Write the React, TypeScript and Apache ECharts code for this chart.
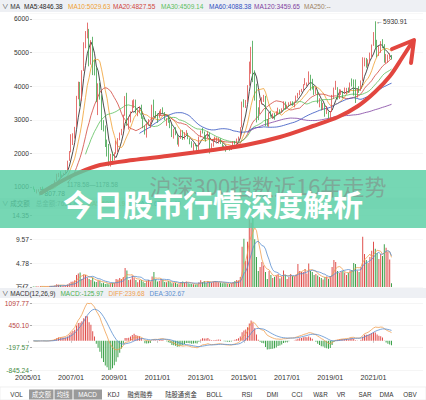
import React, { useEffect, useRef } from "react";
import * as echarts from "echarts";

// CSI 300 monthly candles, 2005/04 – 2021/11: [open, close, low, high]
const monthlyK: number[][] = [
  // 2005
  [1000, 932, 925, 1016], [932, 862, 850, 945], [862, 910, 807.78, 930], [910, 914, 860, 935], [914, 974, 905, 1000], [974, 940, 925, 1012], [940, 892, 870, 948], [892, 897, 862, 912], [897, 923, 885, 935],
  // 2006
  [923, 1002, 920, 1005], [1002, 1040, 995, 1075], [1040, 1049, 1012, 1060], [1049, 1185, 1045, 1195], [1185, 1341, 1180, 1395], [1341, 1390, 1295, 1420], [1390, 1324, 1286, 1469], [1324, 1360, 1266, 1372], [1360, 1407, 1340, 1420], [1407, 1476, 1398, 1503], [1476, 1782, 1470, 1784], [1782, 2041, 1778, 2069],
  // 2007
  [2041, 2446, 2030, 2570], [2446, 2536, 2250, 2598], [2536, 2782, 2440, 2790], [2782, 3710, 2780, 3712], [3710, 3904, 3610, 4135], [3904, 3878, 3404, 4127], [3878, 4471, 3563, 4475], [4471, 5218, 4453, 5307], [5218, 5601, 5130, 5640], [5601, 5688, 5423, 5891.72], [5688, 4738, 4590, 5705], [4738, 5338, 4640, 5370],
  // 2008
  [5338, 4589, 4330, 5470], [4589, 4540, 4320, 4790], [4540, 3790, 3525, 4560], [3790, 4030, 3140, 4085], [4030, 3716, 3600, 4100], [3716, 2830, 2695, 3730], [2830, 2820, 2653, 2990], [2820, 2390, 2190, 2830], [2390, 2270, 1907, 2410], [2270, 1663, 1620, 2280], [1663, 1840, 1607, 1985], [1840, 1818, 1760, 2048],
  // 2009
  [1818, 1990, 1795, 2030], [1990, 2082, 1985, 2380], [2082, 2400, 2030, 2455], [2400, 2560, 2390, 2620], [2560, 2714, 2540, 2730], [2714, 3137, 2700, 3150], [3137, 3680, 3120, 3704], [3680, 2880, 2820, 3803], [2880, 2960, 2710, 3090], [2960, 3240, 2920, 3250], [3240, 3480, 3220, 3580], [3480, 3576, 3350, 3610],
  // 2010
  [3576, 3204, 3190, 3600], [3204, 3281, 3105, 3300], [3281, 3346, 3200, 3400], [3346, 3068, 3030, 3450], [3068, 2812, 2750, 3075], [2812, 2563, 2560, 2830], [2563, 2868, 2470, 2890], [2868, 2903, 2830, 3020], [2903, 2935, 2760, 2945], [2935, 3403, 2930, 3450], [3403, 3196, 3080, 3600], [3196, 3128, 3050, 3260],
  // 2011
  [3128, 3077, 2910, 3190], [3077, 3239, 3060, 3270], [3239, 3263, 3140, 3320], [3263, 3211, 3180, 3370], [3211, 3001, 2990, 3230], [3001, 3044, 2820, 3050], [3044, 2937, 2910, 3140], [2937, 2845, 2750, 2990], [2845, 2505, 2485, 2870], [2505, 2645, 2440, 2730], [2645, 2567, 2540, 2780], [2538, 2317, 2261, 2551],
  // 2012
  [2317, 2435, 2201, 2481], [2435, 2605, 2431, 2691], [2605, 2426, 2401, 2691], [2426, 2598, 2411, 2631], [2598, 2602, 2551, 2691], [2602, 2432, 2421, 2611], [2432, 2304, 2271, 2451], [2304, 2175, 2171, 2361], [2175, 2264, 2071, 2301], [2264, 2225, 2211, 2301], [2225, 2110, 2073, 2241], [2110, 2494, 2101, 2501],
  // 2013
  [2494, 2659, 2481, 2681], [2659, 2644, 2591, 2761], [2644, 2466, 2411, 2651], [2466, 2464, 2351, 2531], [2464, 2611, 2451, 2661], [2611, 2186, 1996, 2621], [2186, 2224, 2111, 2301], [2224, 2355, 2201, 2421], [2355, 2380, 2351, 2501], [2380, 2381, 2341, 2481], [2381, 2445, 2291, 2471], [2445, 2301, 2281, 2451],
  // 2014
  [2301, 2173, 2131, 2301], [2173, 2149, 2121, 2241], [2149, 2117, 2051, 2171], [2117, 2131, 2101, 2221], [2131, 2128, 2081, 2161], [2128, 2136, 2101, 2171], [2136, 2321, 2131, 2361], [2321, 2298, 2261, 2371], [2298, 2421, 2291, 2441], [2421, 2479, 2371, 2501], [2479, 2780, 2451, 2781], [2780, 3504, 2771, 3541],
  // 2015
  [3504, 3405, 3371, 3611], [3405, 3543, 3351, 3591], [3543, 4022, 3531, 4031], [4022, 4720, 4011, 4731], [4720, 5095, 4371, 5171], [5095, 4444, 4121, 5351], [4444, 3787, 3571, 4471], [3787, 3338, 2921, 4071], [3338, 3174, 2991, 3371], [3174, 3505, 3171, 3591], [3505, 3537, 3461, 3671], [3537, 3702, 3531, 3741],
  // 2016
  [3702, 2917, 2811, 3711], [2917, 2848, 2801, 3021], [2848, 3189, 2791, 3221], [3189, 3128, 3091, 3271], [3128, 3140, 3031, 3191], [3140, 3125, 3001, 3201], [3125, 3175, 3121, 3251], [3175, 3298, 3151, 3361], [3298, 3224, 3181, 3311], [3224, 3307, 3211, 3341], [3307, 3492.2, 3301, 3551], [3492, 3350, 3300, 3540],
  // 2017
  [3350, 3427, 3330, 3450], [3427, 3493, 3410, 3520], [3493, 3496, 3430, 3550], [3496, 3479, 3420, 3550], [3479, 3533, 3370, 3540], [3533, 3706, 3520, 3720], [3706, 3777, 3640, 3800], [3777, 3862, 3730, 3880], [3862, 3877, 3820, 3920], [3877, 4046, 3870, 4060], [4046, 4046, 4030, 4240], [4046, 4071, 3990, 4110],
  // 2018
  [4071, 4315, 4070, 4440], [4315, 4063, 3870, 4340], [4063, 3939, 3900, 4220], [3939, 3796, 3740, 4010], [3796, 3842, 3770, 3960], [3842, 3550, 3490, 3870], [3550, 3557, 3370, 3640], [3557, 3375, 3280, 3570], [3375, 3478, 3290, 3500], [3478, 3193, 3090, 3480], [3193, 3213, 3170, 3410], [3213, 3051, 3030, 3240],
  // 2019
  [3051, 3242, 2975, 3260], [3242, 3710, 3230, 3740], [3710, 3912, 3620, 3960], [3912, 3953, 3890, 4160], [3953, 3676.6, 3600, 3970], [3676.6, 3825.59, 3620, 3910], [3825.59, 3835.36, 3740, 3900], [3835.36, 3799.59, 3640, 3860], [3799.59, 3814.53, 3780, 3960], [3814.53, 3886.75, 3760, 3950], [3886.75, 3828.67, 3800, 3960], [3828.67, 4096.58, 3810, 4110],
  // 2020
  [4096.58, 4003.9, 3990, 4230], [4003.9, 3940.05, 3720, 4200], [3940.05, 3692.18, 3500, 4200], [3692.18, 3912.57, 3660, 3920], [3912.57, 3867.02, 3800, 4000], [3867.02, 4163.96, 3860, 4170], [4163.96, 4695.05, 4160, 4860], [4695.05, 4816.22, 4590, 4850], [4816.22, 4587.4, 4550, 4840], [4587.4, 4695.33, 4580, 4800], [4695.33, 4960.25, 4680, 5000], [4960.25, 5211.29, 4850, 5240],
  // 2021
  [5211.29, 5345.57, 5200, 5610], [5345.57, 5336.76, 5140, 5930.91], [5336.76, 5048.49, 4860, 5380], [5048.49, 5123.49, 4900, 5200], [5123.49, 5331.96, 4990, 5340], [5331.96, 5223.74, 5130, 5400], [5223.74, 4811.17, 4700, 5250], [4811.17, 4828.46, 4680, 4960], [4828.46, 4866.38, 4700, 4940], [4866.38, 4908.77, 4800, 4980], [4908.77, 4817.12, 4790, 4930],
];

// monthly turnover in 万亿 yuan, same months
const turnover: number[] = [
  0.12, 0.1, 0.13, 0.09, 0.14, 0.12, 0.09, 0.08, 0.1,
  0.16, 0.22, 0.17, 0.3, 0.55, 0.45, 0.4, 0.22, 0.25, 0.28, 0.5, 0.75,
  1.05, 1.1, 1.35, 2.4, 2.7, 2.9, 1.6, 2.5, 2.4, 1.9, 1.6, 1.4,
  1.9, 1.1, 1.0, 1.3, 1.2, 0.75, 0.85, 0.6, 0.7, 0.55, 0.75, 0.85,
  0.8, 1.6, 1.5, 1.8, 1.6, 2.0, 3.8, 3.3, 1.4, 1.5, 2.3, 1.9,
  1.4, 0.95, 1.4, 1.4, 1.1, 0.8, 1.2, 1.4, 1.0, 2.1, 3.0, 1.5,
  1.1, 1.2, 1.6, 1.4, 1.0, 0.95, 1.2, 1.0, 0.75, 0.8, 0.85, 0.6,
  0.55, 1.0, 1.1, 0.9, 1.1, 0.75, 0.65, 0.6, 0.55, 0.5, 0.55, 0.95,
  1.35, 1.0, 1.2, 0.8, 1.2, 1.05, 0.9, 1.1, 1.2, 1.0, 0.95, 0.9,
  0.75, 0.8, 0.75, 0.7, 0.6, 0.75, 1.0, 1.2, 1.4, 1.3, 2.0, 8.0,
  9.6, 5.2, 9.0, 13.5, 12.8, 14.35, 9.5, 6.0, 3.2, 4.0, 5.0, 4.3,
  3.0, 1.6, 3.2, 2.4, 1.8, 2.0, 2.3, 2.6, 1.7, 2.0, 3.3, 2.4,
  1.6, 2.0, 2.6, 2.2, 2.1, 2.5, 4.6, 3.2, 3.0, 3.0, 3.6, 2.7,
  4.7, 3.2, 3.0, 2.4, 2.6, 2.3, 2.0, 1.8, 1.5, 2.0, 2.1, 1.6,
  2.2, 4.0, 5.4, 5.0, 3.2, 2.8, 3.1, 3.2, 2.9, 2.4, 2.8, 3.3,
  3.4, 4.8, 4.6, 3.3, 3.0, 4.0, 10.0, 6.6, 5.4, 4.8, 6.0, 7.2,
  9.0, 7.6, 6.8, 5.6, 6.6, 6.2, 8.5, 7.8, 7.0, 5.5, 0.765489,
];

// axis runs from 2005/01; the first candle is 2005/04
const AXIS_START_YEAR = 2005;
const LEAD_MONTHS = 3;
const TRAIL_MONTHS = 17;

const maPeriods = [5, 10, 20, 30, 60, 120, 250];
const maColors = ["#1e1e1e", "#f0a030", "#d0453c", "#5cbf5c", "#2f4fbf", "#7e3fa0", "#a08464"];

const tabNames = ["VOL", "成交额", "均线", "MACD", "KDJ", "融资融券", "陆股通资金", "BOLL", "RSI", "DMI", "CCI", "W&R", "VR", "SAR", "DMA", "OBV"];
const activeTabs = ["成交额", "均线", "MACD"];

const TITLE = "今日股市行情深度解析";
const WATERMARK = "沪深300指数近16年走势";

const LATIN = "'Liberation Sans', Arial, sans-serif";
const MIXED = "'Liberation Sans', 'Noto Sans CJK SC', sans-serif";
const CJK = "'Noto Sans CJK SC', sans-serif";

const UP = "#e0504e";
const DOWN = "#3fa34d";
const ORANGE = "#f0a050";
const BLUE = "#5b8fd0";

function movingAvg(vals: number[], n: number): (number | string)[] {
  return vals.map((_, i) => {
    if (i < n - 1) return "-";
    let s = 0;
    for (let k = i - n + 1; k <= i; k++) s += vals[k];
    return s / n;
  });
}

function ema(vals: number[], n: number): number[] {
  const out: number[] = [];
  let e = vals[0];
  vals.forEach((v, i) => {
    e = i === 0 ? v : (2 * v + (n - 1) * e) / (n + 1);
    out.push(e);
  });
  return out;
}

const pad = (arr: any[]) => [...Array(LEAD_MONTHS).fill("-"), ...arr];

let measureCtx: CanvasRenderingContext2D | null = null;
function textWidth(t: string, size: number, family: string) {
  if (!measureCtx) measureCtx = document.createElement("canvas").getContext("2d");
  if (!measureCtx) return t.length * size * 0.55;
  measureCtx.font = `${size}px ${family}`;
  return measureCtx.measureText(t).width;
}

function buildOption() {
  const total = LEAD_MONTHS + monthlyK.length + TRAIL_MONTHS;
  const months: string[] = [];
  for (let i = 0; i < total; i++) {
    const y = AXIS_START_YEAR + Math.floor(i / 12);
    const m = (i % 12) + 1;
    months.push(`${y}/${String(m).padStart(2, "0")}`);
  }

  const closes = monthlyK.map((k) => k[1]);
  const maSeries = maPeriods.map((n) => movingAvg(closes, n));

  const volMa5 = movingAvg(turnover, 5);
  const volMa10 = movingAvg(turnover, 10);
  const volMax = Math.max(...turnover);

  const e12 = ema(closes, 12);
  const e26 = ema(closes, 26);
  const diff = e12.map((v, i) => v - e26[i]);
  const dea: number[] = [];
  diff.forEach((v, i) => dea.push(i === 0 ? 0 : (2 * v + 8 * dea[i - 1]) / 10));
  const macd = diff.map((v, i) => 2 * (v - dea[i]));
  const mMin = Math.min(...diff, ...dea, ...macd);
  const mMax = Math.max(...diff, ...dea, ...macd);

  const last = (a: any[]) => a[a.length - 1];
  const fmt = (v: any) => (typeof v === "number" ? v.toFixed(2) : "--");

  const showYearLabel = (_: number, value: string) => {
    const [y, m] = value.split("/");
    return m === "01" && (+y - AXIS_START_YEAR) % 2 === 0 && +y <= 2021;
  };

  const grids = [
    { left: 27, right: 3, top: 13, height: 184 },
    { left: 27, right: 3, top: 215, height: 72 },
    { left: 27, right: 3, top: 303, height: 67 },
  ].map((g) => ({ ...g, outerBoundsMode: "none" }));

  const xAxes = [0, 1, 2].map((i) => ({
    type: "category",
    gridIndex: i,
    data: months,
    boundaryGap: true,
    axisLine: { show: false },
    splitLine: { show: false },
    axisTick:
      i === 2
        ? { show: true, interval: showYearLabel, alignWithLabel: true, length: 2, lineStyle: { color: "#c8c8c8" } }
        : { show: false },
    axisLabel:
      i === 2
        ? { show: true, interval: showYearLabel, fontSize: 7.2, color: "#333", margin: 4, fontFamily: LATIN }
        : { show: false },
  }));

  const yCommon = {
    offset: -5,
    axisLine: { show: false },
    axisTick: { show: true, length: 2, lineStyle: { color: "#aaa" } },
  };

  const yAxes = [
    {
      ...yCommon,
      type: "value",
      gridIndex: 0,
      min: 702,
      max: 6178,
      splitNumber: 5,
      splitLine: { show: true, lineStyle: { color: "#f3f3f3", width: 0.6 } },
      axisLabel: {
        fontSize: 6.7,
        color: "#333",
        margin: 3,
        fontFamily: LATIN,
        showMinLabel: false,
        showMaxLabel: false,
        formatter: (v: number) => String(Math.round(v)),
      },
    },
    {
      ...yCommon,
      type: "value",
      gridIndex: 1,
      min: 0,
      max: volMax,
      interval: volMax / 3,
      splitLine: { show: true, lineStyle: { color: "#f3f3f3", width: 0.6 } },
      axisLabel: {
        fontSize: 6.7,
        color: "#333",
        margin: 3,
        fontFamily: MIXED,
        showMinLabel: true,
        showMaxLabel: true,
        formatter: (v: number) => (v === 0 ? "万亿" : v.toFixed(2)),
      },
    },
    {
      ...yCommon,
      type: "value",
      gridIndex: 2,
      min: mMin,
      max: mMax,
      interval: (mMax - mMin) / 3,
      splitLine: { show: true, lineStyle: { color: "#eeeeee", width: 0.6 } },
      axisLabel: {
        fontSize: 6.7,
        margin: 3,
        fontFamily: LATIN,
        showMinLabel: true,
        showMaxLabel: true,
        formatter: (v: number) => v.toFixed(2),
        color: (v: any) => (Number(v) >= 0 ? "#b8453e" : "#3f8a3f"),
      },
    },
  ];

  const series: any[] = [];

  series.push({
    type: "candlestick",
    name: "K",
    xAxisIndex: 0,
    yAxisIndex: 0,
    z: 3,
    barWidth: 1,
    data: pad(monthlyK),
    itemStyle: { color: UP, color0: DOWN, borderColor: UP, borderColor0: DOWN, borderWidth: 0.8 },
    markPoint: {
      symbol: "circle",
      symbolSize: 0,
      data: [
        { type: "max", valueDim: "highest" },
        { type: "min", valueDim: "lowest" },
      ],
      label: {
        show: true,
        position: "right",
        distance: 1,
        fontSize: 6.7,
        color: "#333",
        fontFamily: LATIN,
        formatter: (p: any) => "←" + Number(p.value).toFixed(2),
      },
    },
  });

  maPeriods.forEach((n, i) => {
    series.push({
      type: "line",
      name: `MA${n}`,
      xAxisIndex: 0,
      yAxisIndex: 0,
      z: 2,
      symbol: "none",
      data: pad(maSeries[i]),
      lineStyle: { width: 0.8, color: maColors[i] },
    });
  });

  series.push({
    type: "bar",
    name: "成交额",
    xAxisIndex: 1,
    yAxisIndex: 1,
    barWidth: 1,
    data: pad(turnover.map((v, i) => ({ value: v, itemStyle: { color: monthlyK[i][1] >= monthlyK[i][0] ? UP : DOWN } }))),
  });
  series.push({ type: "line", xAxisIndex: 1, yAxisIndex: 1, symbol: "none", data: pad(volMa5), lineStyle: { width: 0.8, color: ORANGE } });
  series.push({ type: "line", xAxisIndex: 1, yAxisIndex: 1, symbol: "none", data: pad(volMa10), lineStyle: { width: 0.8, color: BLUE } });

  series.push({
    type: "bar",
    name: "MACD",
    xAxisIndex: 2,
    yAxisIndex: 2,
    barWidth: 1,
    data: pad(macd.map((v) => ({ value: v, itemStyle: { color: v >= 0 ? UP : DOWN } }))),
  });
  series.push({ type: "line", name: "DIFF", xAxisIndex: 2, yAxisIndex: 2, symbol: "none", data: pad(diff), lineStyle: { width: 0.8, color: ORANGE } });
  series.push({ type: "line", name: "DEA", xAxisIndex: 2, yAxisIndex: 2, symbol: "none", data: pad(dea), lineStyle: { width: 0.8, color: BLUE } });

  const HEAD = 6.5;
  const text = (t: string, x: number, y: number, fill: string, size = HEAD, extra: any = {}, z = 30) => ({
    type: "text",
    x,
    y,
    z,
    silent: true,
    style: { text: t, fill, fontSize: size, fontFamily: MIXED, verticalAlign: "middle", ...extra },
  });

  // lays header items out left to right with a fixed gap
  const row = (items: [string, string][], x0: number, y: number, gap: number) => {
    let x = x0;
    return items.map(([t, c]) => {
      const el = text(t, x, y, c);
      x += textWidth(t, HEAD, MIXED) + gap;
      return el;
    });
  };

  const band = (y: number, h: number) => ({
    type: "rect",
    z: 1,
    silent: true,
    shape: { x: 0, y, width: 426, height: h },
    style: { fill: "#eef0f4" },
  });

  const elements: any[] = [];

  // MA header
  elements.push(band(0, 12));
  elements.push(text("∨ MA", 2, 6, "#333"));
  const maHeaderX = [24, 68, 113, 161, 209, 254, 304];
  maPeriods.forEach((n, i) => {
    elements.push(text(`MA${n}:${fmt(last(maSeries[i]))}`, maHeaderX[i], 6, maColors[i]));
  });

  // turnover header
  elements.push(band(198, 11));
  elements.push(
    ...row(
      [
        ["∨ 成交额", "#333"],
        [`总金额:${(last(turnover) * 10000).toFixed(2)}`, "#8a8a8a"],
        [`MA5:${(Number(last(volMa5)) * 10000).toFixed(2)}`, ORANGE],
        [`MA10:${(Number(last(volMa10)) * 10000).toFixed(2)}`, BLUE],
      ],
      2,
      203.5,
      6
    )
  );
  elements.push(text("1178.58—1178.58", 67, 184.5, "#555", 6.3));

  // MACD header
  elements.push(band(288, 10));
  const lastMacd = last(macd);
  elements.push(
    ...row(
      [
        ["∨ MACD(12,26,9)", "#333"],
        [`MACD:${lastMacd.toFixed(2)}`, lastMacd >= 0 ? UP : "#4caf50"],
        [`DIFF:${last(diff).toFixed(2)}`, ORANGE],
        [`DEA:${last(dea).toFixed(2)}`, BLUE],
      ],
      2,
      293,
      5
    )
  );

  // indicator tab bar
  elements.push({
    type: "rect",
    z: 1,
    silent: true,
    shape: { x: 0, y: 387, width: 426, height: 13 },
    style: { fill: "#ffffff", stroke: "#e6e6e6", lineWidth: 0.6 },
  });
  const tabCenters = [16.5, 41.5, 63, 87.5, 113.5, 140, 181, 214.5, 247, 272.5, 297, 320.5, 341, 365, 386.5, 410];
  const activeBoxes: Record<string, [number, number]> = { 成交额: [29, 53.5], 均线: [54.5, 72.5], MACD: [73.5, 102] };
  tabNames.forEach((name, i) => {
    const active = activeTabs.includes(name);
    if (active) {
      const [a, b] = activeBoxes[name];
      elements.push({
        type: "rect",
        z: 2,
        silent: true,
        shape: { x: a, y: 389.5, width: b - a, height: 10 },
        style: { fill: "#9a9a9a" },
      });
    }
    elements.push(text(name, tabCenters[i], 394.5, active ? "#ffffff" : "#333", 6.3, { align: "center" }, 31));
  });

  // hand-drawn trend arrow
  elements.push({
    type: "polyline",
    z: 40,
    silent: true,
    shape: {
      points: [
        [41, 193], [58, 183], [78, 173], [100, 165], [133, 160], [167, 156], [213, 150], [246, 145],
        [280, 137], [313, 126], [338, 117], [358, 106], [375, 92], [390, 76], [402, 58], [411, 44],
      ],
      smooth: 0.3,
    },
    style: { stroke: "#e2463f", lineWidth: 4, fill: "none", lineCap: "round", lineJoin: "round" },
  });
  elements.push({
    type: "polyline",
    z: 40,
    silent: true,
    shape: { points: [[392, 49], [414, 40], [411, 63]] },
    style: { stroke: "#e2463f", lineWidth: 4, fill: "none", lineCap: "round", lineJoin: "round" },
  });

  // banner
  elements.push({
    type: "rect",
    z: 50,
    silent: true,
    shape: { x: 0, y: 170, width: 426, height: 58 },
    style: { fill: "rgba(88,206,163,0.82)" },
  });
  elements.push(text(WATERMARK, 268, 185, "rgba(130,138,134,0.6)", 22, { align: "center", fontFamily: CJK }, 51));
  elements.push(
    text(TITLE, 213, 203, "#ffffff", 30, { align: "center", fontFamily: CJK, fontWeight: "bold" }, 52)
  );

  return {
    animation: false,
    backgroundColor: "#ffffff",
    textStyle: { fontFamily: LATIN },
    grid: grids,
    xAxis: xAxes,
    yAxis: yAxes,
    series,
    graphic: { elements },
  };
}

export default function App() {
  const ref = useRef<HTMLDivElement>(null);
  useEffect(() => {
    if (!ref.current) return;
    document.body.style.margin = "0";
    const chart = echarts.init(ref.current, undefined, { renderer: "svg", width: 426, height: 400 });
    chart.setOption(buildOption() as any);
    return () => chart.dispose();
  }, []);
  return (
    <div
      ref={ref}
      style={{ position: "absolute", left: 0, top: 0, width: 426, height: 400, background: "#ffffff" }}
    />
  );
}
